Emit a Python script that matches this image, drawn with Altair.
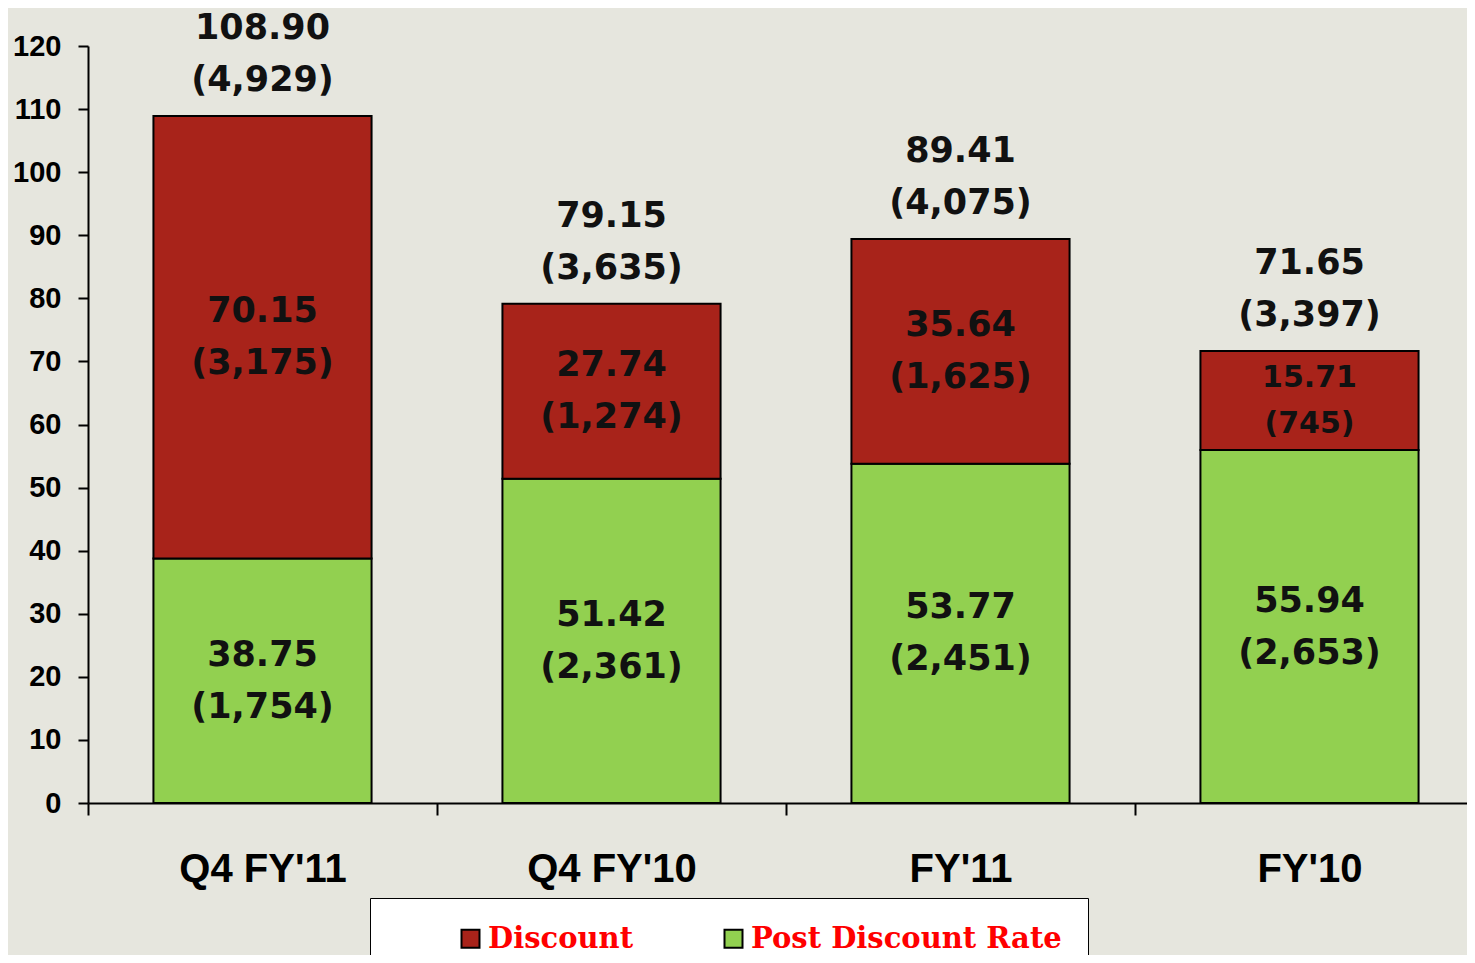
import altair as alt
import pandas as pd

categories = ["Q4 FY'11", "Q4 FY'10", "FY'11", "FY'10"]
series_names = ["Discount", "Post Discount Rate"]
series_colors = ["#a8231a", "#92d050"]
post_values = [38.75, 51.42, 53.77, 55.94]
post_counts = [1754, 2361, 2451, 2653]
disc_values = [70.15, 27.74, 35.64, 15.71]
disc_counts = [3175, 1274, 1625, 745]
total_values = [108.90, 79.15, 89.41, 71.65]
total_counts = [4929, 3635, 4075, 3397]
y_ticks = list(range(0, 121, 10))


def lab(v, n):
    return f"{v:.2f}\n({n:,})"


rows = []
for i, c in enumerate(categories):
    rows.append(dict(cat=c, series="Post Discount Rate", order=1,
                     value=post_values[i], label=lab(post_values[i], post_counts[i])))
    rows.append(dict(cat=c, series="Discount", order=2,
                     value=disc_values[i], label=lab(disc_values[i], disc_counts[i])))
seg = pd.DataFrame(rows)
tot = pd.DataFrame(dict(cat=categories, total=total_values,
                        label=[lab(v, n) for v, n in zip(total_values, total_counts)]))

xscale = alt.Scale(domain=categories, range=[0, 1396], paddingInner=0, paddingOuter=0)
yscale = alt.Scale(domain=[0, 120], nice=False)

x_axis = alt.Axis(title=None, labelAngle=0, labelFont="Liberation Sans", labelFontWeight="bold",
                  labelFontSize=40, labelColor="black", labelPadding=34, labelLimit=400,
                  tickSize=12, tickBand="extent", tickColor="black", tickWidth=2,
                  domainColor="black", domainWidth=2)
y_axis = alt.Axis(title=None, values=y_ticks, grid=False, labelFont="Liberation Sans",
                  labelFontWeight="bold", labelFontSize=29, labelColor="black", labelPadding=17,
                  tickSize=10, tickColor="black", tickWidth=2, domainColor="black", domainWidth=2)

bars = alt.Chart(seg).mark_bar(stroke="black", strokeWidth=2,
                               width=alt.RelativeBandSize(0.625)).encode(
    x=alt.X("cat:N", scale=xscale, axis=x_axis, sort=categories),
    y=alt.Y("value:Q", stack="zero", scale=yscale, axis=y_axis),
    color=alt.Color("series:N", scale=alt.Scale(domain=series_names, range=series_colors),
                    legend=alt.Legend(title=None, orient="none", legendX=282, legendY=852,
                                      direction="horizontal", fillColor="white",
                                      strokeColor="black", padding=26, symbolOffset=60,
                                      symbolType="square", symbolSize=324,
                                      symbolStrokeColor="black", symbolStrokeWidth=2,
                                      labelFont="DejaVu Serif", labelFontWeight="bold",
                                      labelFontSize=29, labelColor="#ff0000", labelOffset=3,
                                      columnPadding=25, labelLimit=600)),
    order=alt.Order("order:Q"),
)

stacked = alt.Chart(seg).transform_stack(
    stack="value", groupby=["cat"], sort=[alt.SortField("order")], as_=["y0", "y1"]
).transform_calculate(mid="(datum.y0 + datum.y1) / 2")

seg_text_big = stacked.transform_filter("datum.value >= 20").mark_text(
    font="DejaVu Sans", fontWeight="bold", fontSize=35, color="#111111",
    lineBreak="\n", lineHeight=52, baseline="middle", align="center", dy=-26
).encode(
    x=alt.X("cat:N", scale=xscale, sort=categories),
    y=alt.Y("mid:Q", scale=yscale),
    text="label:N",
)

seg_text_small = stacked.transform_filter("datum.value < 20").mark_text(
    font="DejaVu Sans", fontWeight="bold", fontSize=30, color="#111111",
    lineBreak="\n", lineHeight=46, baseline="middle", align="center", dy=-23
).encode(
    x=alt.X("cat:N", scale=xscale, sort=categories),
    y=alt.Y("mid:Q", scale=yscale),
    text="label:N",
)

tot_text = alt.Chart(tot).mark_text(
    font="DejaVu Sans", fontWeight="bold", fontSize=35, color="#111111",
    lineBreak="\n", lineHeight=52, baseline="bottom", align="center", dy=-70
).encode(
    x=alt.X("cat:N", scale=xscale, sort=categories),
    y=alt.Y("total:Q", scale=yscale),
    text="label:N",
)

chart = alt.layer(bars, seg_text_big, seg_text_small, tot_text).properties(
    width=1379, height=757,
    autosize=alt.AutoSizeParams(type="none"),
    padding={"left": 80, "top": 38, "right": 0, "bottom": 152},
    background="#e6e6de",
).configure_view(stroke=None)

chart.save("out.html", embed_options={"renderer": "svg", "actions": False})
